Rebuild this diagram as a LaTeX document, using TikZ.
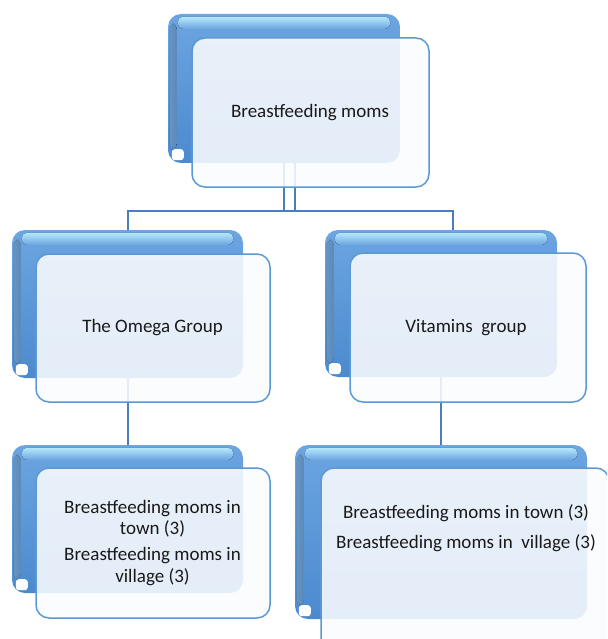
\documentclass[tikz,border=0pt]{standalone}
\usepackage{fontspec}
\setmainfont{Carlito}
\definecolor{bbtop}{RGB}{108,165,224}
\definecolor{bbbot}{RGB}{76,138,207}
\definecolor{hlc}{RGB}{180,232,252}
\definecolor{frontfill}{RGB}{250,252,254}
\definecolor{frontline}{RGB}{92,153,212}
\definecolor{conn}{RGB}{74,126,187}
\tikzset{
  backbox/.style={rectangle, rounded corners=13pt, draw=none, top color=bbtop, bottom color=bbbot, inner sep=0pt},
  frontbox/.style={rectangle, rounded corners=13pt, draw=frontline, line width=1.5pt, fill=frontfill, fill opacity=0.88, inner sep=0pt},
  hilite/.style={rounded corners=5pt, top color=hlc, bottom color=bbtop, draw=none},
  sidelite/.style={rounded corners=5pt, left color=bbtop!80!hlc, right color=bbtop, draw=none, fill opacity=0.8},
  notch/.style={fill=white, rounded corners=3pt},
  link/.style={draw=conn, line width=2pt},
  lbl/.style={font=\fontsize{19}{21.5}\selectfont, align=center, text=black!90, inner sep=0pt}
}
\begin{document}
\begin{tikzpicture}[x=1pt,y=-1pt]
\useasboundingbox (0,0) rectangle (607,639);
\clip (0,0) rectangle (607,639);
% back boxes
\node[backbox, minimum width=232pt, minimum height=149pt] (b0) at (284,88.5) {};
\node[backbox, minimum width=231pt, minimum height=148pt] (b1) at (127.5,304) {};
\node[backbox, minimum width=232pt, minimum height=147pt] (b2) at (441,303.5) {};
\node[backbox, minimum width=231pt, minimum height=148pt] (b3) at (127.5,519) {};
\node[backbox, minimum width=292pt, minimum height=174pt] (b4) at (441,532) {};
% highlights
\foreach \n in {b0,b1,b2,b3,b4}{
  \fill[sidelite] ([xshift=2pt,yshift=-10pt]\n.north west) rectangle ([xshift=9pt,yshift=14pt]\n.south west);
  \fill[hilite] ([xshift=10pt,yshift=-3pt]\n.north west) rectangle ([xshift=-10pt,yshift=-15pt]\n.north east);
  \fill[notch] ([xshift=4pt,yshift=3pt]\n.south west) rectangle ([xshift=16pt,yshift=14pt]\n.south west);
}
% connectors
\coordinate (j0) at ([yshift=-48pt]b0.south);
\draw[link] (b0.south) -- (j0);
\draw[link] ([xshift=11pt]b0.south) -- ([xshift=11pt]j0);
\draw[link] (b1.north) |- (j0) -| ([xshift=12pt]b2.north);
\draw[link] (b1.south) -- (b3.north);
\draw[link] (b2.south) -- (b4.north);
% front boxes
\node[frontbox, minimum width=237pt, minimum height=149pt] (f0) at (310.5,112.5) {};
\node[frontbox, minimum width=234pt, minimum height=148pt] (f1) at (153,328) {};
\node[frontbox, minimum width=236pt, minimum height=149pt] (f2) at (468,327.5) {};
\node[frontbox, minimum width=234pt, minimum height=150pt] (f3) at (153,543) {};
\node[frontbox, minimum width=288pt, minimum height=192pt] (f4) at (465,564) {};
% labels
\node[lbl] (t0) at (310,113) {Breastfeeding moms};
\node[lbl] (t1) at (152.5,328) {The Omega Group};
\node[lbl] (t2) at (466,328) {Vitamins\ \ group};
\node[lbl] (t3) at (152.5,543) {Breastfeeding moms in\\ town (3)\\[4.5pt] Breastfeeding moms in\\ village (3)};
\node[lbl] (t4) at (466,528) {Breastfeeding moms in town (3)\\[8pt] Breastfeeding moms in\ \ village (3)};
\end{tikzpicture}
\end{document}
